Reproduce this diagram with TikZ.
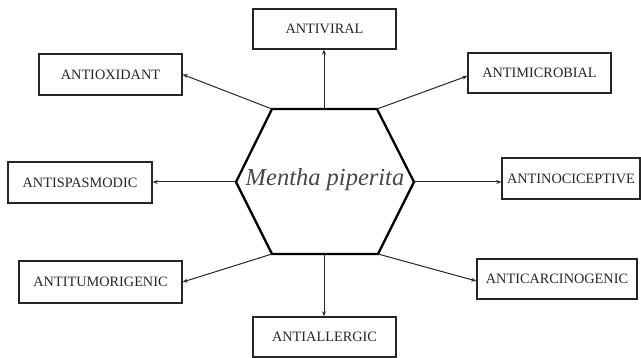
\documentclass[tikz,border=0pt]{standalone}
\usepackage{fontspec}
\setmainfont{Liberation Serif}
\usetikzlibrary{arrows.meta}
\definecolor{txt}{HTML}{262626}
\definecolor{ctxt}{HTML}{474747}
\tikzset{
  box/.style={draw=black!85, line width=1.4pt, minimum height=40pt, inner sep=0pt,
    font=\fontsize{14.3}{16}\selectfont, text=txt},
  hexline/.style={draw=black, line width=2.3pt, line join=miter},
  conn/.style={draw=black!85, line width=1pt, -{Stealth[length=5pt,width=4pt]}}
}
\begin{document}
\begin{tikzpicture}[x=1pt,y=-1pt]
\useasboundingbox (0,0) rectangle (641,358);
% hexagon
\coordinate (hTL) at (272,109);
\coordinate (hTR) at (377,109);
\coordinate (hR) at (414,182);
\coordinate (hBR) at (378,254);
\coordinate (hBL) at (272,254);
\coordinate (hL) at (236,182);
\coordinate (hT) at (324,109);
\coordinate (hB) at (324,254);
\draw[hexline] (hTL) -- (hTR) -- (hR) -- (hBR) -- (hBL) -- (hL) -- cycle;
\node[font=\fontsize{24.5}{28}\selectfont\itshape, text=ctxt] (center) at (325,180) {Mentha piperita};
% boxes
\node[box, minimum width=143pt] (viral) at (324.5,29) {ANTIVIRAL};
\node[box, minimum width=143pt, minimum height=41pt] (oxid) at (110.5,74.5) {ANTIOXIDANT};
\node[box, minimum width=143pt] (micro) at (539.5,73) {ANTIMICROBIAL};
\node[box, minimum width=144pt, minimum height=41pt] (spas) at (80,182.5) {ANTISPASMODIC};
\node[box, minimum width=138pt, minimum height=41pt] (noci) at (571,178.5) {ANTINOCICEPTIVE};
\node[box, minimum width=163pt, minimum height=42pt] (tumor) at (100.5,282) {ANTITUMORIGENIC};
\node[box, minimum width=160pt] (carc) at (557,279) {ANTICARCINOGENIC};
\node[box, minimum width=143pt] (aller) at (324.5,337) {ANTIALLERGIC};
% connectors
\draw[conn] (hT) -- (hT |- viral.south);
\draw[conn] (hTL) -- (oxid.east);
\draw[conn] (hTR) -- ([yshift=-3pt]micro.west);
\draw[conn] (hL) -- (hL -| spas.east);
\draw[conn] (hR) -- (hR -| noci.west);
\draw[conn] (hBL) -- (tumor.east);
\draw[conn] (hBR) -- ([yshift=-2pt]carc.west);
\draw[conn] (hB) -- (hB |- aller.north);
\end{tikzpicture}
\end{document}
